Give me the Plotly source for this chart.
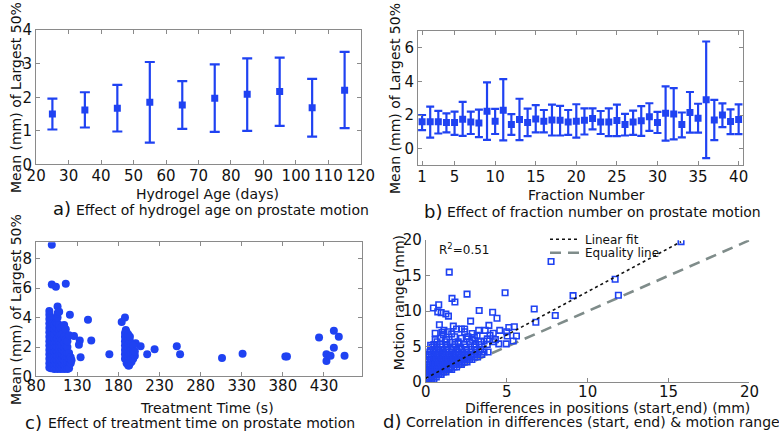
import plotly.graph_objects as go

W, H = 779, 443
BLUE = '#1f42f2'
GRAY = '#8a8a8a'
FONT = 'DejaVu Sans'

# ---------------- Panel a: hydrogel age ----------------
a_age = [25, 35, 45, 55, 65, 75, 85, 95, 105, 115]
a_mean = [1.50, 1.62, 1.67, 1.85, 1.77, 1.97, 2.09, 2.17, 1.69, 2.21]
a_lo = [1.04, 1.10, 0.98, 0.65, 1.06, 0.97, 1.00, 1.15, 0.83, 1.08]
a_hi = [1.96, 2.15, 2.37, 3.05, 2.48, 2.98, 3.16, 3.18, 2.55, 3.35]

# ---------------- Panel b: fraction number ----------------
b_frac = list(range(1, 41))
b_mean = [1.60, 1.60, 1.60, 1.55, 1.55, 1.75, 1.58, 1.52, 2.22, 1.63,
          2.28, 1.43, 1.73, 1.56, 1.77, 1.63, 1.71, 1.69, 1.58, 1.63,
          1.69, 1.79, 1.58, 1.58, 1.67, 1.43, 1.58, 1.66, 1.90, 1.56,
          2.10, 2.06, 1.43, 2.15, 1.81, 2.91, 1.70, 2.00, 1.62, 1.73]
b_lo = [1.10, 0.65, 0.90, 0.97, 0.82, 0.76, 0.87, 0.68, 0.52, 0.87,
        0.49, 0.82, 0.50, 0.74, 0.97, 0.97, 0.78, 0.78, 0.82, 0.65,
        0.84, 1.14, 0.87, 0.74, 0.74, 0.78, 0.82, 0.76, 1.05, 0.93,
        0.48, 0.55, 0.67, 0.95, 0.95, -0.57, 0.51, 1.28, 0.86, 0.86]
b_hi = [2.00, 2.50, 2.25, 2.10, 2.20, 2.78, 2.20, 2.32, 3.95, 2.36,
        4.14, 2.05, 2.97, 2.38, 2.59, 2.30, 2.62, 2.55, 2.30, 2.64,
        2.40, 2.40, 2.24, 2.40, 2.62, 2.07, 2.26, 2.53, 2.70, 2.19,
        3.71, 3.60, 2.15, 3.37, 2.67, 6.38, 2.90, 2.69, 2.34, 2.63]

# ---------------- Panel c: treatment time ----------------
c_time = [
    96, 96, 96, 96, 96, 96, 96, 96, 96, 96, 96, 96, 96, 96,
    98, 98, 98, 98, 98, 98, 98, 98, 98, 98, 98, 98,
    100, 100, 100, 100, 100, 100, 100, 100, 100, 100, 100,
    102, 102, 102, 102, 102, 102, 102, 102, 102, 102, 102,
    104, 104, 104, 104, 104, 104, 104, 104, 104, 104, 104,
    106, 106, 106, 106, 106, 106, 106, 106, 106, 106, 106, 106, 106, 106,
    108, 108, 108, 108, 108, 108, 108, 108, 108, 108, 108,
    110, 110, 110, 110, 110, 110, 110, 110, 110, 110,
    112, 112, 112, 112, 112, 112, 112, 112, 112,
    114, 114, 114, 114, 114, 114, 114, 114, 114,
    116, 116, 116, 116, 116, 116, 116, 116,
    118, 118, 118, 118, 118, 118, 118,
    120, 120, 120, 120, 120, 122, 122, 123,
    99, 99, 104, 116, 121, 143, 147, 126, 133, 132, 134, 169,
    184, 188, 189, 188, 193, 201, 207, 215, 224, 251, 255,
    306, 331, 383, 385, 424, 433, 433, 438, 442, 442, 448, 455,
    188, 188, 188, 188, 188, 188,
    190, 190, 190, 190, 190, 190, 190, 190,
    192, 192, 192, 192, 192, 192, 192, 192,
    194, 194, 194, 194, 194, 194, 194,
    196, 196, 196, 196, 196,
    198, 198, 198, 198,
    200, 200]
c_mean = [
    0.6, 0.9, 1.2, 1.5, 1.8, 2.1, 2.4, 2.7, 3.0, 3.3, 3.6, 3.9, 4.2, 4.45,
    0.55, 0.85, 1.15, 1.45, 1.75, 2.05, 2.35, 2.65, 2.95, 3.25, 3.55, 3.8,
    0.6, 0.9, 1.2, 1.5, 1.8, 2.1, 2.4, 2.7, 3.0, 3.3, 3.6,
    0.5, 0.8, 1.1, 1.4, 1.7, 2.0, 2.3, 2.6, 2.9, 3.2, 3.5,
    0.6, 0.9, 1.2, 1.5, 1.8, 2.1, 2.4, 3.1, 3.4, 3.7, 4.0,
    0.5, 0.8, 1.1, 1.4, 1.7, 2.0, 2.3, 2.6, 3.0, 3.3, 3.6, 4.0, 4.3, 4.75,
    0.6, 0.9, 1.2, 1.5, 1.8, 2.1, 2.4, 2.8, 3.2, 3.5, 4.4,
    0.5, 0.8, 1.1, 1.4, 1.7, 2.0, 2.3, 2.6, 2.9, 3.3,
    0.6, 0.9, 1.2, 1.5, 1.8, 2.1, 2.5, 2.9, 3.4,
    0.5, 0.8, 1.1, 1.4, 1.7, 2.0, 2.3, 2.7, 3.5,
    0.6, 0.9, 1.2, 1.5, 1.8, 2.1, 2.5, 3.2,
    0.7, 1.0, 1.3, 1.6, 2.0, 2.4, 0.5,
    0.8, 1.2, 1.6, 2.8, 0.55, 1.3, 0.9, 1.1,
    8.95, 6.25, 6.1, 6.3, 4.2, 3.85, 2.45, 2.75, 2.45, 2.15, 1.3, 1.5,
    3.7, 4.0, 3.15, 1.2, 0.75, 2.25, 2.05, 1.5, 1.85, 2.05, 1.5,
    1.25, 1.55, 1.35, 1.35, 2.65, 1.05, 1.5, 1.4, 3.1, 1.95, 2.7, 1.4,
    1.5, 1.8, 2.1, 2.4, 2.7, 2.95,
    0.9, 1.2, 1.5, 1.8, 2.1, 2.4, 2.7, 3.0,
    0.75, 1.05, 1.35, 1.65, 1.95, 2.25, 2.55, 2.85,
    0.9, 1.2, 1.5, 1.8, 2.1, 2.4, 2.7,
    1.0, 1.3, 1.6, 1.9, 2.2,
    1.2, 1.5, 1.8, 2.1,
    1.4, 1.7]

# ---------------- Panel d: differences vs motion range ----------------
d_diff = [
    0.05, 0.2, 0.35, 0.5,
    0.05, 0.2, 0.35, 0.5, 0.65,
    0.05, 0.2, 0.35, 0.5, 0.65, 0.8, 0.95,
    0.05, 0.2, 0.35, 0.5, 0.65, 0.8, 0.95, 1.1, 1.25,
    0.1, 0.25, 0.4, 0.55, 0.7, 0.85, 1.0, 1.15, 1.3, 1.45, 1.6,
    0.1, 0.25, 0.4, 0.55, 0.7, 0.85, 1.0, 1.15, 1.3, 1.45, 1.6, 1.75, 1.9,
    0.1, 0.25, 0.4, 0.55, 0.7, 0.85, 1.0, 1.15, 1.3, 1.45, 1.6, 1.75, 1.9, 2.05, 2.2,
    0.15, 0.3, 0.45, 0.6, 0.75, 0.9, 1.05, 1.2, 1.35, 1.5, 1.65, 1.8, 1.95, 2.1, 2.25, 2.4, 2.55,
    0.15, 0.3, 0.45, 0.6, 0.75, 0.9, 1.05, 1.2, 1.35, 1.5, 1.65, 1.8, 1.95, 2.1, 2.25, 2.4, 2.55, 2.7, 2.85,
    0.2, 0.35, 0.5, 0.65, 0.8, 0.95, 1.1, 1.25, 1.4, 1.55, 1.7, 1.85, 2.0, 2.15, 2.3, 2.45, 2.6, 2.8, 3.0, 3.2,
    0.2, 0.35, 0.5, 0.65, 0.8, 0.95, 1.1, 1.25, 1.4, 1.55, 1.7, 1.85, 2.0, 2.2, 2.4, 2.6, 2.8, 3.0, 3.2, 3.45,
    0.25, 0.45, 0.65, 0.85, 1.05, 1.25, 1.45, 1.65, 1.85, 2.05, 2.3, 2.55, 2.8, 3.05, 3.3, 3.6, 3.85,
    0.3, 0.55, 0.8, 1.05, 1.3, 1.6, 1.9, 2.2, 2.5, 2.8, 3.1, 3.4,
    0.4, 0.7, 1.0, 1.3, 1.7, 2.1, 2.5, 3.0,
    0.5, 0.9, 1.3, 1.8, 2.4, 3.1, 3.8,
    0.7, 1.2, 2.0, 2.7, 3.4,
    15.77, 7.74, 1.45, 11.7, 4.9, 2.55, 11.9, 9.1, 1.62, 1.8,
    0.8, 0.47, 6.7, 3.3, 0.74, 0.95, 4.13, 1.24, 1.4, 8.0,
    4.4, 6.8, 2.77, 0.84, 1.7, 3.9, 1.12, 1.9, 2.2, 2.4,
    3.27, 3.67, 4.57, 5.13, 5.0, 5.47, 5.6, 5.03, 0.58, 0.58,
    1.08, 1.38, 2.4, 2.87, 3.17, 2.2, 2.6, 1.78, 3.97, 4.17,
    4.51, 4.97, 4.2, 3.6, 2.9, 1.5, 2.0, 3.3, 0.3, 5.4,
    0.9, 1.3, 2.5, 3.0, 3.8, 4.3, 1.0, 1.6]
d_range = [
    0.4, 0.4, 0.4, 0.4,
    0.75, 0.75, 0.75, 0.75, 0.75,
    1.1, 1.1, 1.1, 1.1, 1.1, 1.1, 1.1,
    1.45, 1.45, 1.45, 1.45, 1.45, 1.45, 1.45, 1.45, 1.45,
    1.8, 1.8, 1.8, 1.8, 1.8, 1.8, 1.8, 1.8, 1.8, 1.8, 1.8,
    2.15, 2.15, 2.15, 2.15, 2.15, 2.15, 2.15, 2.15, 2.15, 2.15, 2.15, 2.15, 2.15,
    2.5, 2.5, 2.5, 2.5, 2.5, 2.5, 2.5, 2.5, 2.5, 2.5, 2.5, 2.5, 2.5, 2.5, 2.5,
    2.85, 2.85, 2.85, 2.85, 2.85, 2.85, 2.85, 2.85, 2.85, 2.85, 2.85, 2.85, 2.85, 2.85, 2.85, 2.85, 2.85,
    3.2, 3.2, 3.2, 3.2, 3.2, 3.2, 3.2, 3.2, 3.2, 3.2, 3.2, 3.2, 3.2, 3.2, 3.2, 3.2, 3.2, 3.2, 3.2,
    3.55, 3.55, 3.55, 3.55, 3.55, 3.55, 3.55, 3.55, 3.55, 3.55, 3.55, 3.55, 3.55, 3.55, 3.55, 3.55, 3.55, 3.55, 3.55, 3.55,
    3.9, 3.9, 3.9, 3.9, 3.9, 3.9, 3.9, 3.9, 3.9, 3.9, 3.9, 3.9, 3.9, 3.9, 3.9, 3.9, 3.9, 3.9, 3.9, 3.9,
    4.25, 4.25, 4.25, 4.25, 4.25, 4.25, 4.25, 4.25, 4.25, 4.25, 4.25, 4.25, 4.25, 4.25, 4.25, 4.25, 4.25,
    4.6, 4.6, 4.6, 4.6, 4.6, 4.6, 4.6, 4.6, 4.6, 4.6, 4.6, 4.6,
    4.95, 4.95, 4.95, 4.95, 4.95, 4.95, 4.95, 4.95,
    5.3, 5.3, 5.3, 5.3, 5.3, 5.3, 5.3,
    5.7, 5.7, 5.7, 5.7, 5.7,
    19.8, 17.0, 15.5, 14.5, 12.6, 12.4, 12.25, 12.2, 11.8, 11.3,
    10.9, 10.45, 10.3, 10.1, 9.9, 9.8, 9.85, 9.6, 9.3, 9.4,
    9.0, 8.45, 8.6, 8.1, 7.9, 8.0, 7.3, 7.5, 7.5, 7.5,
    7.3, 7.3, 7.3, 7.7, 7.1, 7.8, 6.5, 6.5, 6.9, 6.0,
    6.7, 7.1, 7.1, 6.85, 6.6, 6.2, 6.4, 6.4, 6.6, 6.9,
    5.4, 5.4, 5.7, 5.8, 5.9, 5.6, 5.5, 5.3, 5.2, 5.8,
    6.2, 6.0, 6.1, 6.3, 6.1, 6.0, 7.0, 6.8]
fit_slope = 1.22
fit_intercept = 0.55
fit_x = [0.0, 15.77]
equality_x = [0, 20]
r_squared = 0.51


def fx(p):
    return p / W


def fy(p):
    return 1 - p / H


fig = go.Figure()

# panel a
fig.add_trace(go.Scatter(
    x=a_age, y=a_mean, mode='markers', xaxis='x', yaxis='y', showlegend=False,
    marker=dict(color=BLUE, size=7, symbol='square'),
    error_y=dict(type='data', symmetric=False,
                 array=[h - m for h, m in zip(a_hi, a_mean)],
                 arrayminus=[m - l for m, l in zip(a_mean, a_lo)],
                 color=BLUE, thickness=2.2, width=5)))

# panel b
fig.add_trace(go.Scatter(
    x=b_frac, y=b_mean, mode='markers', xaxis='x2', yaxis='y2', showlegend=False,
    marker=dict(color=BLUE, size=7, symbol='square'),
    error_y=dict(type='data', symmetric=False,
                 array=[h - m for h, m in zip(b_hi, b_mean)],
                 arrayminus=[m - l for m, l in zip(b_mean, b_lo)],
                 color=BLUE, thickness=2.2, width=4)))

# panel c
fig.add_trace(go.Scatter(
    x=c_time, y=c_mean, mode='markers', xaxis='x3', yaxis='y3', showlegend=False,
    marker=dict(color=BLUE, size=8, line=dict(width=0))))

# panel d
fig.add_trace(go.Scatter(
    x=equality_x, y=equality_x, mode='lines', xaxis='x4', yaxis='y4',
    name='Equality line', legend='legend2',
    line=dict(color='#7f8c8a', width=2.6, dash='11px,7px')))
fig.add_trace(go.Scatter(
    x=d_diff, y=d_range, mode='markers', xaxis='x4', yaxis='y4', showlegend=False,
    marker=dict(color=BLUE, size=5.5, symbol='square-open', line=dict(width=1.6))))
fig.add_trace(go.Scatter(
    x=fit_x, y=[fit_slope * v + fit_intercept for v in fit_x], mode='lines',
    xaxis='x4', yaxis='y4', name='Linear fit', legend='legend',
    line=dict(color='#111111', width=1.6, dash='dot')))

tickfont = dict(family=FONT, size=15, color='#111')


def axis(domain, rng, tickvals, anchor, mirror=True, standoff=0):
    return dict(domain=domain, range=rng, anchor=anchor, showline=True,
                linecolor=GRAY, linewidth=1, mirror='ticks' if mirror else False,
                ticks='inside', ticklen=4, tickcolor=GRAY, tickwidth=1,
                showgrid=False, zeroline=False, tickfont=tickfont,
                tickmode='array', tickvals=tickvals, ticklabelstandoff=standoff)


legfont = dict(family=FONT, size=12, color='#111')
fig.update_layout(
    width=W, height=H, margin=dict(l=0, r=0, t=0, b=0),
    paper_bgcolor='white', plot_bgcolor='white',
    font=dict(family=FONT, size=14, color='#111'),
    xaxis=axis([fx(27), fx(362)], [20, 120], list(range(20, 121, 10)), 'y', standoff=-2),
    yaxis=axis([fy(162), fy(22)], [0, 4], [0, 1, 2, 3, 4], 'x'),
    xaxis2=axis([fx(421), fx(756)], [0.5, 40.5], [1, 5, 10, 15, 20, 25, 30, 35, 40], 'y2', standoff=-2),
    yaxis2=axis([fy(163), fy(23)], [-1, 7], [0, 2, 4, 6], 'x2'),
    xaxis3=axis([fx(27), fx(363)], [80, 476], list(range(80, 431, 50)), 'y3', standoff=-4),
    yaxis3=axis([fy(383), fy(243)], [0, 9.13], [0, 2, 4, 6, 8], 'x3'),
    xaxis4=axis([fx(429), fx(763)], [0, 20], [0, 5, 10, 15, 20], 'y4', mirror=False, standoff=-4),
    yaxis4=axis([fy(389), fy(241)], [0, 20], [0, 5, 10, 15, 20], 'x4', mirror=False),
    showlegend=True,
    legend=dict(x=fx(552), y=fy(240), xanchor='left', yanchor='middle',
                bgcolor='rgba(0,0,0,0)', font=legfont, itemwidth=30),
    legend2=dict(x=fx(552), y=fy(254), xanchor='left', yanchor='middle',
                 bgcolor='rgba(0,0,0,0)', font=legfont, itemwidth=30),
)

ann = []


def text(x, y, s, size=14, angle=0, xanchor='center'):
    ann.append(dict(x=fx(x), y=fy(y), xref='paper', yref='paper', text=s,
                    showarrow=False, textangle=angle, xanchor=xanchor, yanchor='middle',
                    font=dict(family=FONT, size=size, color='#111')))


ylab = 'Mean (mm) of Largest 50%'
text(6, 92, ylab, angle=-90)
text(397, 93, ylab, angle=-90)
text(6, 313, ylab, angle=-90)
text(401, 306, 'Motion range (mm)', angle=-90)
text(204, 193, 'Hydrogel Age (days)')
text(595, 194, 'Fraction Number')
text(203, 416, 'Treatment Time (s)')
text(616, 416, 'Differences in positions (start,end) (mm)')
text(441, 250, 'R<sup>2</sup>=%.2f' % r_squared, size=12, xanchor='left')

captions = [
    (42, 209, 'a)', 'Effect of hydrogel age on prostate motion'),
    (425, 212, 'b)', 'Effect of fraction number on prostate motion'),
    (13, 432, 'c)', 'Effect of treatment time on prostate motion'),
    (383, 431, 'd)', 'Correlation in differences (start, end) &amp; motion range'),
]
for cx, cy, tag, body in captions:
    text(cx, cy - 1, tag, size=18, xanchor='left')
    text(cx + 24, cy, body, size=14, xanchor='left')

fig.update_layout(annotations=ann)
fig.write_html('out.html', config={'displayModeBar': False},
               post_script="document.body.style.margin='0';")
